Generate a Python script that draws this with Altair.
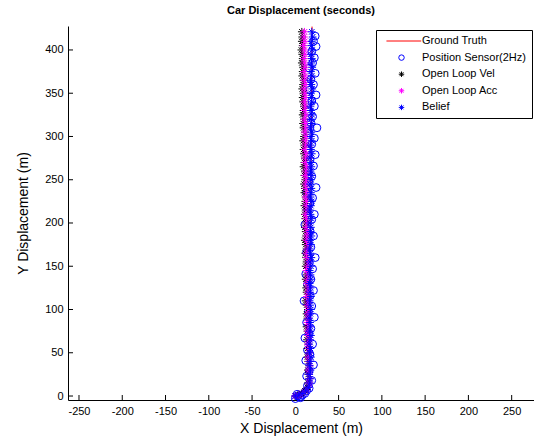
import altair as alt
import pandas as pd

# ---------------- data ----------------
series_names = ["Ground Truth", "Position Sensor(2Hz)", "Open Loop Vel", "Open Loop Acc", "Belief"]
series_colors = ["#ff0000", "#0000ff", "#000000", "#ff00ff", "#0000ff"]

gt_x = [0, 5, 10, 14, 16, 16.5, 17, 17.5, 18, 18.5, 19, 19.3]
gt_y = [0, 1, 3, 7, 13, 30, 80, 150, 230, 310, 380, 427]

sensor_x = [0, 3, 6, 2, 8, 5, 11, 13, 16, 14,
            19, 13, 16, 21, 12, 17, 14, 20, 11, 16,
            18, 13, 22, 15, 19, 10, 17, 21, 14, 18,
            12, 20, 16, 23, 13, 18, 15, 21, 17, 11,
            19, 22, 14, 17, 20, 13, 24, 16, 19, 15,
            21, 17, 23, 14, 19, 22, 16, 25, 18, 20,
            15, 22, 19, 24, 17, 21, 18, 23, 16, 20,
            22, 19, 24, 21, 23]
sensor_y = [-3, 0, -2, 2, 1, -1, 3, 6, 9, 12,
            18, 23, 29, 36, 41, 48, 53, 60, 67, 72,
            78, 85, 91, 97, 104, 110, 116, 122, 129, 135,
            141, 147, 154, 160, 166, 172, 179, 185, 191, 198,
            204, 210, 216, 223, 229, 235, 241, 248, 254, 260,
            266, 273, 279, 285, 291, 298, 304, 310, 316, 323,
            329, 335, 341, 348, 354, 360, 366, 373, 379, 385,
            391, 398, 404, 410, 416]

star_y = [0, 1, 3, 6, 10, 15, 20, 25, 30, 35,
          40, 45, 50, 55, 60, 65, 70, 75, 80, 85,
          90, 95, 100, 105, 110, 115, 120, 125, 130, 135,
          140, 145, 150, 155, 160, 165, 170, 175, 180, 185,
          190, 195, 200, 205, 210, 215, 220, 225, 230, 235,
          240, 245, 250, 255, 260, 265, 270, 275, 280, 285,
          290, 295, 300, 305, 310, 315, 320, 325, 330, 335,
          340, 345, 350, 355, 360, 365, 370, 375, 380, 385,
          390, 395, 400, 405, 410, 415, 421]
vel_x = [0, 3, 7, 11, 14, 15, 16, 15, 14.5, 16,
         15, 14, 15.5, 14, 15, 13.5, 15, 14, 13, 14.5,
         14, 13, 14.5, 13, 12, 14, 13, 12.5, 13.5, 12,
         13, 14, 12, 13, 12.5, 11.5, 13, 12, 11, 12.5,
         12, 11, 12.5, 11.5, 11, 12, 10.5, 11.5, 12, 10.5,
         11, 10, 11.5, 10.5, 11, 9.5, 10.5, 11, 10, 9.5,
         10.5, 9, 10, 11, 9.5, 9, 10, 8.5, 9.5, 10,
         9, 8.5, 9.5, 8, 9, 9.5, 8, 8.5, 9, 7.5,
         8.5, 8, 7, 8.5, 7.5, 8, 7.5]
acc_x = [0, 4, 8, 12, 15, 16, 16.5, 16, 15.5, 16.5,
         16, 15, 16, 15.5, 14.5, 16, 15, 14.5, 15.5, 14,
         15, 14.5, 15.5, 14, 15, 13.5, 14.5, 15, 13.5, 14,
         14.5, 13, 14, 15, 13.5, 13, 14, 14.5, 13, 13.5,
         14, 12.5, 13.5, 13, 12, 13.5, 12.5, 13, 12, 13.5,
         12.5, 12, 13, 11.5, 12.5, 13, 11.5, 12, 12.5, 11,
         12, 11.5, 12.5, 11, 12, 11.5, 10.5, 12, 11, 11.5,
         10.5, 11.5, 11, 10, 11.5, 10.5, 11, 10, 11, 10.5,
         10, 11, 10.5, 9.5, 11, 10, 10.5]
belief_x = [0, 4, 8, 12, 15, 16.5, 17, 16, 17.5, 16.5,
            17, 18, 16.5, 17.5, 16, 17, 18, 16.5, 17.5, 17,
            16, 17.5, 18, 17, 16.5, 18, 17, 17.5, 16.5, 18,
            17.5, 16.5, 18, 17, 18.5, 17.5, 16.5, 18, 17, 18.5,
            17.5, 18, 17, 18.5, 17.5, 16.5, 18, 19, 17.5, 18,
            18.5, 17, 18, 19, 17.5, 18.5, 18, 17, 19, 18,
            17.5, 19, 18, 18.5, 17.5, 19, 18, 19.5, 18, 17.5,
            19, 18.5, 18, 19.5, 18.5, 17.5, 19, 18, 19.5, 18.5,
            19, 18, 19.5, 18.5, 19, 20, 19]

x_ticks = [-250, -200, -150, -100, -50, 0, 50, 100, 150, 200, 250]
y_ticks = [0, 50, 100, 150, 200, 250, 300, 350, 400]

# ---------------- tables ----------------
gt_df = pd.DataFrame({"x": gt_x, "y": gt_y, "i": list(range(len(gt_x)))})
parts = [
    pd.DataFrame({"x": sensor_x, "y": sensor_y, "series": series_names[1]}),
    pd.DataFrame({"x": vel_x, "y": star_y, "series": series_names[2]}),
    pd.DataFrame({"x": acc_x, "y": star_y, "series": series_names[3]}),
    pd.DataFrame({"x": belief_x, "y": star_y, "series": series_names[4]}),
]
pts_df = pd.concat(parts, ignore_index=True)
xt_df = pd.DataFrame({"x": x_ticks})
yt_df = pd.DataFrame({"y": y_ticks})

FONT = "Liberation Sans"
W, H = 466, 374
ASTERISK = "M-1,0L1,0M0,-1L0,1M-0.7,-0.7L0.7,0.7M-0.7,0.7L0.7,-0.7"
LINE = "M-5.5,0L7.2,0"
shapes = [LINE, "circle", ASTERISK, ASTERISK, ASTERISK]

xs = alt.Scale(domain=[-262.7, 275.8], nice=False, zero=False)
ys = alt.Scale(domain=[-4.6, 427.7], nice=False, zero=False)

x_axis = alt.Axis(values=x_ticks, title="X Displacement (m)", ticks=False, labelPadding=5,
                  titleFontSize=14, titleFont=FONT, titleFontWeight="normal", titlePadding=5,
                  labelFontSize=11, labelFont=FONT, labelColor="black", titleColor="black",
                  domainColor="black", grid=False, labelExpr="replace(datum.label, '\u2212', '-')")
y_axis = alt.Axis(values=y_ticks, title="Y Displacement (m)", ticks=False, labelPadding=5,
                  titleFontSize=14, titleFont=FONT, titleFontWeight="normal", titlePadding=14,
                  labelFontSize=11, labelFont=FONT, labelColor="black", titleColor="black",
                  domainColor="black", grid=False)

legend = alt.Legend(title=None, orient="none", legendX=308, legendY=4, padding=5.5,
                    strokeColor="black", fillColor="white", symbolOffset=14.5, labelOffset=15,
                    rowPadding=4.6, labelFontSize=11, labelFont=FONT, labelColor="black",
                    symbolSize=30, symbolStrokeWidth=1, cornerRadius=0)

xtick_layer = alt.Chart(xt_df).mark_rule(color="black", strokeWidth=1).encode(
    x=alt.X("x:Q", scale=xs, axis=x_axis), y=alt.value(H), y2=alt.value(H - 5))
ytick_layer = alt.Chart(yt_df).mark_rule(color="black", strokeWidth=1).encode(
    y=alt.Y("y:Q", scale=ys, axis=y_axis), x=alt.value(0), x2=alt.value(5))

line_layer = alt.Chart(gt_df).mark_line(color="#ff0000", strokeWidth=1).encode(
    x=alt.X("x:Q", scale=xs, axis=x_axis),
    y=alt.Y("y:Q", scale=ys, axis=y_axis),
    order="i:Q")

pts_layer = alt.Chart(pts_df).mark_point(filled=False, strokeWidth=1, size=60, opacity=1).encode(
    x=alt.X("x:Q", scale=xs, axis=x_axis),
    y=alt.Y("y:Q", scale=ys, axis=y_axis),
    color=alt.Color("series:N", scale=alt.Scale(domain=series_names, range=series_colors), legend=legend),
    shape=alt.Shape("series:N", scale=alt.Scale(domain=series_names, range=shapes), legend=legend),
)

chart = alt.layer(xtick_layer, ytick_layer, line_layer, pts_layer).properties(
    width=W, height=H,
    title=alt.TitleParams("Car Displacement (seconds)", fontSize=11, fontWeight="bold", font=FONT,
                          anchor="middle", offset=9, color="black"),
    padding={"left": 68, "top": 26, "right": 0, "bottom": 36},
    autosize="none",
).configure_view(stroke=None).configure_axis(domainWidth=1)

chart.save("out.html", embed_options={"renderer": "svg", "actions": False})
